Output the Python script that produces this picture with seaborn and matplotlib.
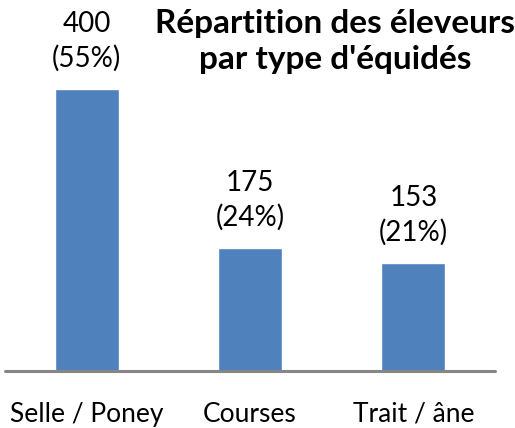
"""Bar chart: breeders by horse type."""
import matplotlib
matplotlib.use("Agg")
import matplotlib.pyplot as plt
import pandas as pd
import seaborn as sns

categories = ["Selle / Poney", "Courses", "Trait / âne"]
counts = [400, 175, 153]
shares = ["55%", "24%", "21%"]

title = "Répartition des éleveurs\npar type d'équidés"

BAR_COLOR = "#4F81BD"
AXIS_COLOR = "#868686"
FONT = ["Lato", "DejaVu Sans"]


def main():
    sns.set_theme(style="white")
    plt.rcParams["font.family"] = FONT

    df = pd.DataFrame({"type": categories, "n": counts})

    fig = plt.figure(figsize=(5.15, 4.28), dpi=100)
    # axes placed in pixel terms of the 515x428 canvas
    ax = fig.add_axes([5 / 515, 57 / 428, 490 / 515, 282 / 428])

    sns.barplot(data=df, x="type", y="n", color=BAR_COLOR, width=0.39,
                saturation=1, ax=ax)
    ax.set_xlim(-0.5, 2.5)
    ax.set_ylim(0, 400)

    for i, (n, s) in enumerate(zip(counts, shares)):
        ax.annotate(f"({s})", (i, n), xytext=(0, 16), textcoords="offset points",
                    ha="center", va="baseline", fontsize=20, color="black",
                    annotation_clip=False)
        ax.annotate(str(n), (i, n), xytext=(0, 41), textcoords="offset points",
                    ha="center", va="baseline", fontsize=20, color="black",
                    annotation_clip=False)

    fig.text(335 / 515, 1 - 9 / 428, title, ha="center", va="top",
             fontsize=24, fontweight="bold", linespacing=1.3, color="black")

    sns.despine(ax=ax, left=True)
    ax.spines["bottom"].set_color(AXIS_COLOR)
    ax.spines["bottom"].set_linewidth(2.2)
    ax.spines["bottom"].set_capstyle("round")
    ax.set_yticks([])
    ax.set_xlabel("")
    ax.set_ylabel("")
    ax.tick_params(axis="x", length=0, pad=22, labelsize=19, labelcolor="black")

    fig.savefig("out.png", dpi=100)
    plt.close(fig)


if __name__ == "__main__":
    main()
